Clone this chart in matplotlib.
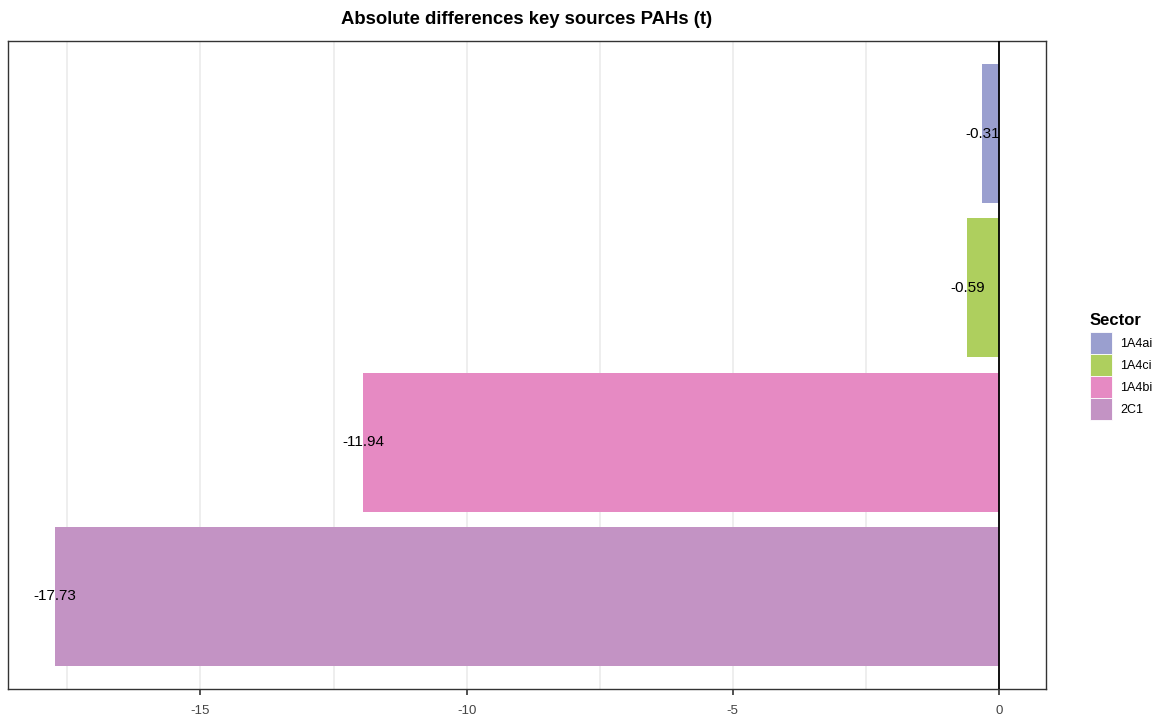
import matplotlib
matplotlib.use("Agg")
import matplotlib.pyplot as plt
from matplotlib.patches import Patch
from matplotlib.ticker import MultipleLocator

sectors = ["1A4ai", "1A4ci", "1A4bi", "2C1"]
values = [-0.31, -0.59, -11.94, -17.73]
labels = ["-0.31", "-0.59", "-11.94", "-17.73"]
colors = ["#9A9FCF", "#AECF5E", "#E68AC3", "#C393C4"]
xticks = [-15, -10, -5, 0]

plt.rcParams["font.family"] = ["Liberation Sans", "DejaVu Sans"]

fig = plt.figure(figsize=(11.64, 7.24), dpi=100)
ax = fig.add_axes([8 / 1164, 1 - 689 / 724, 1038 / 1164, 648 / 724])

ypos = list(range(len(sectors)))
ax.barh(ypos, values, height=0.9, color=colors, zorder=2)
for y, v, lab in zip(ypos, values, labels):
    ax.text(v, y, lab, ha="center", va="center", fontsize=11, color="black", zorder=4)

ax.axvline(0, color="black", linewidth=1.3, zorder=3)

lo, hi = min(values + [0]), max(values + [0])
pad = (hi - lo) * 0.05
ax.set_xlim(lo - pad, hi + pad)
ax.set_ylim(len(sectors) - 1 + 0.6, -0.6)

ax.set_xticks(xticks)
ax.set_xticklabels([str(t) for t in xticks])
ax.xaxis.set_minor_locator(MultipleLocator(2.5))
ax.tick_params(axis="x", which="major", length=4.5, width=1.2, color="#333333",
               labelsize=9.5, labelcolor="#444444", pad=7)
ax.tick_params(axis="x", which="minor", length=0)
ax.set_yticks([])
ax.grid(True, axis="x", which="both", color="#EBEBEB", linewidth=1.2, zorder=0)
ax.set_axisbelow(True)
for s in ax.spines.values():
    s.set_color("#333333")
    s.set_linewidth(1.0)

ax.set_title("Absolute differences key sources PAHs (t)", fontsize=13.3,
             fontweight="bold", pad=12.5)

handles = [Patch(facecolor=c, edgecolor="white", linewidth=0.6, label=s)
           for c, s in zip(colors, sectors)]
leg = fig.legend(handles=handles, title="Sector", loc="upper left",
                 bbox_to_anchor=(1087 / 1164, 1 - 310 / 724), frameon=False,
                 fontsize=9, handlelength=1.76, handleheight=2.33,
                 labelspacing=0.02, handletextpad=0.7, borderaxespad=0,
                 borderpad=0.2)
leg.get_title().set_fontweight("bold")
leg.get_title().set_fontsize(12)
leg._legend_box.align = "left"
leg._legend_box.sep = 3

fig.savefig("out.png", dpi=100)
